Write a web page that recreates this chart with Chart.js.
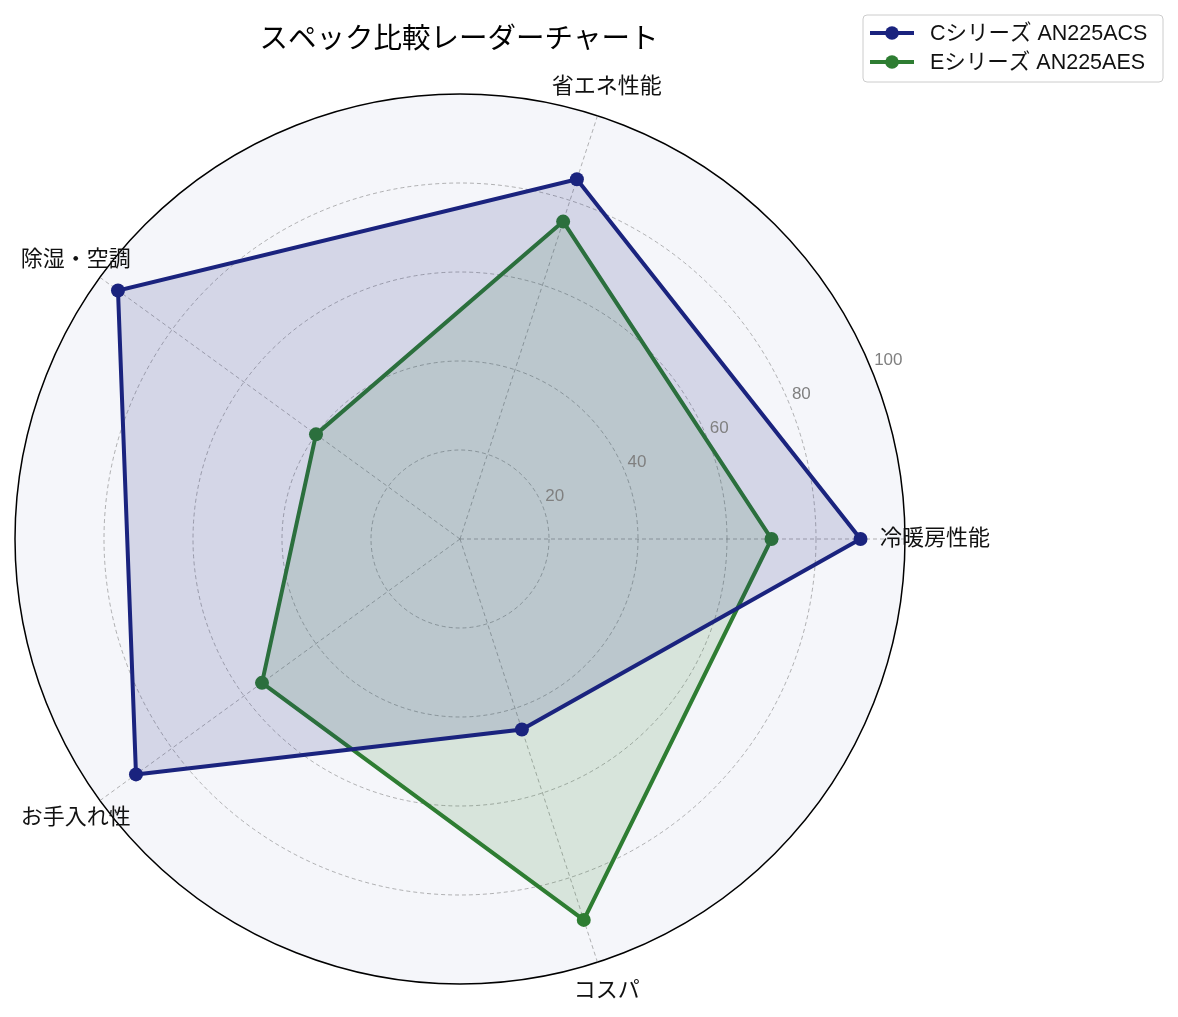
<!DOCTYPE html>
<html lang="ja">
<head>
<meta charset="utf-8">
<title>スペック比較レーダーチャート</title>
<script src="https://cdn.jsdelivr.net/npm/chart.js@4.4.1/dist/chart.umd.min.js"></script>
<style>
  html, body { margin: 0; padding: 0; background: #ffffff; }
  #wrap { width: 1178px; height: 1017px; position: relative; }
</style>
</head>
<body>
<div id="wrap"><canvas id="chart"></canvas></div>
<script>
// データ（右から時計回り）
const categories = ["冷暖房性能", "コスパ", "お手入れ性", "除湿・空調", "省エネ性能"];
const seriesNames = ["Cシリーズ AN225ACS", "Eシリーズ AN225AES"];
const cSeries = [90, 45, 90, 95, 85];
const eSeries = [70, 90, 55, 40, 75];
const tickValues = [20, 40, 60, 80, 100];
const chartTitle = "スペック比較レーダーチャート";

// レイアウト
const CENTER_X = 460;
const CENTER_Y = 539;
const RADIUS = 445;
const FONT = '"Liberation Sans", "Noto Sans CJK JP", sans-serif';
const colors = ["#1a237e", "#2e7d32"];
const fills = ["rgba(26, 35, 126, 0.15)", "rgba(46, 125, 50, 0.15)"];

// 文字・凡例を描くプラグイン
const labelsPlugin = {
  id: "labelsPlugin",
  afterDraw(chart) {
    const ctx = chart.ctx;
    const scale = chart.scales.r;
    ctx.save();

    // 目盛りラベル（22.5°方向）
    const a = -22.5 * Math.PI / 180;
    ctx.font = "17px " + FONT;
    ctx.fillStyle = "#808080";
    ctx.textAlign = "left";
    ctx.textBaseline = "alphabetic";
    tickValues.forEach((v) => {
      const d = scale.getDistanceFromCenterForValue(v);
      const x = scale.xCenter + d * Math.cos(a);
      const y = scale.yCenter + d * Math.sin(a);
      ctx.fillText(String(v), x + 3, y - 4);
    });

    // 軸ラベル
    ctx.font = "22px " + FONT;
    ctx.fillStyle = "#111111";
    ctx.textAlign = "center";
    ctx.textBaseline = "middle";
    categories.forEach((label, i) => {
      const p = scale.getPointPosition(i, scale.drawingArea + 30);
      ctx.fillText(label, p.x, p.y);
    });

    // タイトル
    ctx.font = "28.5px " + FONT;
    ctx.fillStyle = "#000000";
    ctx.fillText(chartTitle, CENTER_X - 1, 40);

    // 凡例
    const bx = 863, by = 15, bw = 300, bh = 67;
    ctx.beginPath();
    ctx.roundRect(bx, by, bw, bh, 4);
    ctx.fillStyle = "rgba(255,255,255,0.8)";
    ctx.fill();
    ctx.strokeStyle = "#cccccc";
    ctx.lineWidth = 1;
    ctx.stroke();

    ctx.font = "21.5px " + FONT;
    ctx.textAlign = "left";
    seriesNames.forEach((name, i) => {
      const y = 33 + i * 29;
      ctx.strokeStyle = colors[i];
      ctx.lineWidth = 4;
      ctx.beginPath();
      ctx.moveTo(870, y);
      ctx.lineTo(914, y);
      ctx.stroke();
      ctx.fillStyle = colors[i];
      ctx.beginPath();
      ctx.arc(892, y, 6.8, 0, Math.PI * 2);
      ctx.fill();
      ctx.fillStyle = "#111111";
      ctx.fillText(name, 930, y + 1);
    });
    ctx.restore();
  }
};

const chartCanvas = document.querySelector("#chart");
const chart = new Chart(chartCanvas.getContext("2d"), {
  type: "radar",
  data: {
    labels: categories,
    datasets: [
      {
        label: seriesNames[0],
        data: cSeries,
        borderColor: colors[0],
        backgroundColor: fills[0],
        borderWidth: 4,
        pointRadius: 7,
        pointHoverRadius: 7,
        pointBorderWidth: 0,
        pointBackgroundColor: colors[0],
        fill: true,
      },
      {
        label: seriesNames[1],
        data: eSeries,
        borderColor: colors[1],
        backgroundColor: fills[1],
        borderWidth: 4,
        pointRadius: 7,
        pointHoverRadius: 7,
        pointBorderWidth: 0,
        pointBackgroundColor: colors[1],
        fill: true,
      },
    ],
  },
  options: {
    responsive: true,
    maintainAspectRatio: false,
    animation: false,
    elements: {
      line: { tension: 0 },
    },
    plugins: {
      legend: { display: false },
      title: { display: false },
      tooltip: { enabled: false },
    },
    scales: {
      r: {
        min: 0,
        max: 100,
        startAngle: 90,
        backgroundColor: "#f5f6fa",
        ticks: { stepSize: 20, display: false },
        pointLabels: { display: false },
        grid: {
          circular: true,
          color: (c) => (c.tick && c.tick.value === 100 ? "#000000" : "rgba(120,120,120,0.7)"),
          lineWidth: (c) => (c.tick && c.tick.value === 100 ? 1.5 : 0.8),
        },
        border: {
          dash: (c) => (c.tick && c.tick.value === 100 ? [] : [4, 3]),
        },
        angleLines: {
          color: "rgba(120,120,120,0.7)",
          lineWidth: 0.8,
          borderDash: [4, 3],
        },
        afterFit: (scale) => {
          scale.xCenter = CENTER_X;
          scale.yCenter = CENTER_Y;
          scale.drawingArea = RADIUS;
        },
      },
    },
  },
  plugins: [labelsPlugin],
});
</script>
</body>
</html>
